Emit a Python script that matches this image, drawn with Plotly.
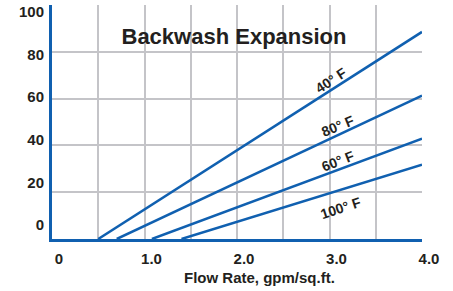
import plotly.graph_objects as go

# ---- data ----
temperatures = ["40° F", "80° F", "60° F", "100° F"]
start_flow = [0.50, 0.70, 1.08, 1.40]      # gpm/sq.ft. where expansion begins
end_flow = [4.0, 4.0, 4.0, 4.0]
end_expansion = [88.5, 61.3, 42.9, 31.8]   # % expansion at 4.0 gpm/sq.ft.

x_ticks = [0, 1, 2, 3, 4]
x_tick_labels = ["0", "1.0", "2.0", "3.0", "4.0"]
y_ticks = [0, 20, 40, 60, 80, 100]
y_tick_labels = ["0", "20", "40", "60", "80", "100"]

# ---- styling ----
BLUE = "#1060b0"
GRID = "#c4c4c8"
TEXT = "#231f20"
FONT = "Liberation Sans, Arial, sans-serif"
NARROW = "Liberation Sans Narrow, Arial Narrow, Liberation Sans, Arial, sans-serif"

label_pos = [(3.02, 67.9, -33), (3.09, 48.3, -22), (3.09, 33.3, -21), (3.12, 13.2, -18)]

fig = go.Figure()
for name, x0, x1, y1 in zip(temperatures, start_flow, end_flow, end_expansion):
    fig.add_trace(go.Scatter(x=[x0, x1], y=[0, y1], mode="lines",
                             line=dict(color=BLUE, width=2.5), name=name,
                             showlegend=False, cliponaxis=False))

# invisible trace carrying the tick-label axis
fig.add_trace(go.Scatter(x=[None], y=[None], yaxis="y2", showlegend=False,
                         hoverinfo="skip"))

for name, (lx, ly, ang) in zip(temperatures, label_pos):
    fig.add_annotation(x=lx, y=ly, text=f"<b>{name}</b>", showarrow=False,
                       textangle=ang, font=dict(family=NARROW, size=14, color=TEXT))

fig.add_annotation(xref="paper", yref="paper", x=(259 - 52) / 370, y=-(277 - 239) / 234,
                   text="<b>Flow Rate, gpm/sq.ft.</b>", showarrow=False,
                   xanchor="center", yanchor="middle",
                   font=dict(family=FONT, size=15, color=TEXT))

tick_font = dict(family=FONT, size=15, color=TEXT, weight="bold")

fig.update_layout(
    width=453, height=291,
    margin=dict(l=52, r=31, t=5, b=52),
    paper_bgcolor="white", plot_bgcolor="white",
    title=dict(text="<b>Backwash Expansion</b>", x=234 / 453, xanchor="center",
               y=1 - 36 / 291, yanchor="middle",
               font=dict(family=FONT, size=22, color=TEXT)),
    xaxis=dict(range=[0, 4], tickvals=x_ticks, ticktext=x_tick_labels,
               showgrid=True, gridcolor=GRID, gridwidth=2,
               minor=dict(dtick=0.5, showgrid=True, gridcolor=GRID, gridwidth=2),
               showline=True, linecolor=BLUE, linewidth=2.5,
               zeroline=False, ticks="", ticklabelshift=7, ticklabelstandoff=4,
               automargin=False, tickfont=tick_font),
    yaxis=dict(range=[0, 100], tickvals=y_ticks, showticklabels=False,
               showgrid=True, gridcolor=GRID, gridwidth=2,
               showline=True, linecolor=BLUE, linewidth=2.5,
               zeroline=False, ticks="", automargin=False),
    yaxis2=dict(overlaying="y", side="left", range=[-6.57, 103.3],
                tickvals=y_ticks, ticktext=y_tick_labels,
                showgrid=False, zeroline=False, showline=False, ticks="",
                ticklabelstandoff=7, automargin=False, tickfont=tick_font),
)

fig.write_html("out.html", config={"displayModeBar": False},
               post_script="document.body.style.margin='0';document.body.style.padding='0';")
